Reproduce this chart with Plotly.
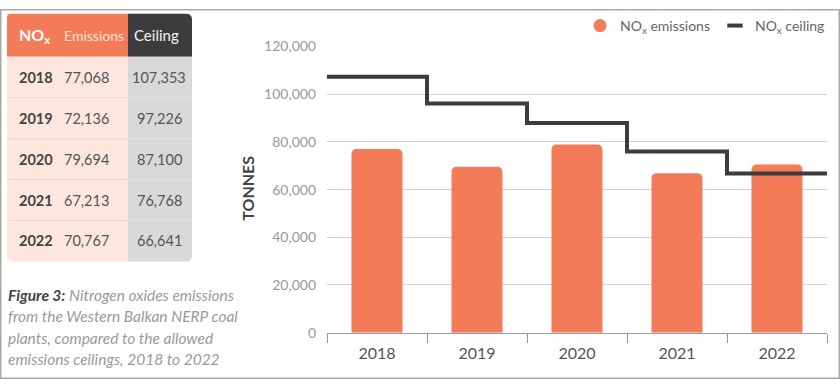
import plotly.graph_objects as go

W, H = 840, 387

# ---------------- data ----------------
years = ["2018", "2019", "2020", "2021", "2022"]
emissions = [77068, 69600, 78900, 66900, 70500]
ceiling = [107353, 96100, 87900, 76000, 66800]
table_years = ["2018", "2019", "2020", "2021", "2022"]
table_emissions = ["77,068", "72,136", "79,694", "67,213", "70,767"]
table_ceiling = ["107,353", "97,226", "87,100", "76,768", "66,641"]
y_ticks = [0, 20000, 40000, 60000, 80000, 100000, 120000]
caption_lines = [
    "<span style='color:#444'><b>Figure 3:</b></span> Nitrogen oxides emissions",
    "from the Western Balkan NERP coal",
    "plants, compared to the allowed",
    "emissions ceilings, 2018 to 2022",
]

ORANGE = "#f47b58"
DARK = "#3c3c3c"
FONT = "Lato"


def X(p):
    return p / W


def Y(p):
    return 1 - p / H


def rrect(x0, y0, x1, y1, tl=0, tr=0, br=0, bl=0):
    def pt(px, py):
        return f"{X(px):.5f},{Y(py):.5f}"
    return (f"M {pt(x0+tl, y0)} L {pt(x1-tr, y0)} Q {pt(x1, y0)} {pt(x1, y0+tr)} "
            f"L {pt(x1, y1-br)} Q {pt(x1, y1)} {pt(x1-br, y1)} "
            f"L {pt(x0+bl, y1)} Q {pt(x0, y1)} {pt(x0, y1-bl)} "
            f"L {pt(x0, y0+tl)} Q {pt(x0, y0)} {pt(x0+tl, y0)} Z")


fig = go.Figure()

fig.add_trace(go.Bar(
    x=years, y=emissions, marker=dict(color=ORANGE, cornerradius=5, line=dict(width=0)),
    showlegend=False, hoverinfo="skip"))

step_x = [i - 0.5 for i in range(len(years) + 1)]
step_y = ceiling + [ceiling[-1]]
fig.add_trace(go.Scatter(
    x=step_x, y=step_y, xaxis="x2", yaxis="y", mode="lines", line_shape="hv",
    line=dict(color=DARK, width=4), showlegend=False, hoverinfo="skip"))

# legend dummies
fig.add_trace(go.Scatter(x=[None], y=[None], mode="markers", name="NO<sub>x</sub> emissions",
                         marker=dict(symbol="circle", size=13, color=ORANGE)))
fig.add_trace(go.Scatter(x=[None], y=[None], mode="markers", name="NO<sub>x</sub> ceiling",
                         marker=dict(symbol="line-ew-open", size=11, color=DARK,
                                     line=dict(width=4, color=DARK))))

dom_x = [X(327), X(827)]
dom_y = [Y(338.5), Y(39.3)]

fig.update_layout(
    width=W, height=H, margin=dict(l=0, r=0, t=0, b=0),
    paper_bgcolor="white", plot_bgcolor="white",
    font=dict(family=FONT, color="#555"),
    bargap=0.49,
    xaxis=dict(domain=dom_x, type="category", categoryorder="array", categoryarray=years,
               tickson="boundaries", ticks="outside", ticklen=9, tickcolor="#999",
               showline=True, linecolor="#999", linewidth=1, showgrid=False,
               tickfont=dict(family=FONT, size=16, color="#555"), ticklabelstandoff=6,
               fixedrange=True),
    xaxis2=dict(overlaying="x", type="linear", range=[-0.5, len(years) - 0.5],
                visible=False, fixedrange=True),
    yaxis=dict(domain=dom_y, range=[0, 120000], tickvals=y_ticks, tickformat=",",
               showgrid=True, gridcolor="#d2d2d2", gridwidth=1, zeroline=False,
               showline=False, ticks="", tickfont=dict(family=FONT, size=14, color="#999"),
               ticklabelstandoff=10, fixedrange=True),
    legend=dict(orientation="h", x=X(830), xanchor="right", y=Y(1), yanchor="top",
                font=dict(family=FONT, size=14, color="#666"), bgcolor="rgba(0,0,0,0)",
                itemclick=False, itemdoubleclick=False),
)

shapes = []
annotations = []

# outer frame
shapes.append(dict(type="rect", xref="paper", yref="paper", x0=X(0.75), x1=X(839.25),
                   y0=Y(386.25), y1=Y(0.75), line=dict(color="#a8a8a8", width=1.5)))

# ---------------- table ----------------
tx0, tx1, tsplit = 7, 192, 128
ty0, thead, ty1 = 5, 50, 264
row_h = (ty1 - thead) / len(table_years)

shapes.append(dict(type="path", xref="paper", yref="paper",
                   path=rrect(tx0, ty0, tsplit, thead, tl=4), fillcolor=ORANGE, line=dict(width=0)))
shapes.append(dict(type="path", xref="paper", yref="paper",
                   path=rrect(tsplit, ty0, tx1, thead, tr=6), fillcolor=DARK, line=dict(width=0)))
shapes.append(dict(type="path", xref="paper", yref="paper",
                   path=rrect(tx0, thead, tsplit, ty1, bl=6), fillcolor="#fde6de", line=dict(width=0)))
shapes.append(dict(type="path", xref="paper", yref="paper",
                   path=rrect(tsplit, thead, tx1, ty1, br=6), fillcolor="#d9d9d9", line=dict(width=0)))
for i in range(1, len(table_years)):
    yy = thead + i * row_h
    shapes.append(dict(type="line", xref="paper", yref="paper", x0=X(tx0), x1=X(tsplit),
                       y0=Y(yy), y1=Y(yy), line=dict(color="#f6d6ca", width=1)))
    shapes.append(dict(type="line", xref="paper", yref="paper", x0=X(tsplit), x1=X(tx1),
                       y0=Y(yy), y1=Y(yy), line=dict(color="#e2e2e2", width=1)))

hy = (ty0 + thead) / 2
annotations.append(dict(text="<b>NO<sub>x</sub></b>", x=X(17), y=Y(hy), xref="paper", yref="paper",
                        xanchor="left", yanchor="middle", showarrow=False,
                        font=dict(family=FONT, size=16, color="white")))
annotations.append(dict(text="Emissions", x=X(62), y=Y(hy), xref="paper", yref="paper",
                        xanchor="left", yanchor="middle", showarrow=False,
                        font=dict(family=FONT, size=14, color="#fde3d9")))
annotations.append(dict(text="Ceiling", x=X(156), y=Y(hy), xref="paper", yref="paper",
                        xanchor="center", yanchor="middle", showarrow=False,
                        font=dict(family=FONT, size=15, color="#f2f2f2")))
for i, (yr, em, ce) in enumerate(zip(table_years, table_emissions, table_ceiling)):
    cy = thead + (i + 0.5) * row_h
    annotations.append(dict(text=f"<b>{yr}</b>", x=X(17), y=Y(cy), xref="paper", yref="paper",
                            xanchor="left", yanchor="middle", showarrow=False,
                            font=dict(family=FONT, size=14.5, color="#444")))
    annotations.append(dict(text=em, x=X(62), y=Y(cy), xref="paper", yref="paper",
                            xanchor="left", yanchor="middle", showarrow=False,
                            font=dict(family=FONT, size=14.5, color="#555")))
    annotations.append(dict(text=ce, x=X(159), y=Y(cy), xref="paper", yref="paper",
                            xanchor="center", yanchor="middle", showarrow=False,
                            font=dict(family=FONT, size=14.5, color="#555")))

# caption, one annotation per line
for i, line in enumerate(caption_lines):
    annotations.append(dict(text=f"<i>{line}</i>", x=X(6), y=Y(299 + 22.4 * i),
                            xref="paper", yref="paper", xanchor="left", yanchor="middle",
                            align="left", showarrow=False,
                            font=dict(family=FONT, size=15.5, color="#9a9a9a")))

# y-axis title
annotations.append(dict(text="<b>TONNES</b>", x=X(248), y=Y(188), xref="paper", yref="paper",
                        xanchor="center", yanchor="middle", textangle=-90, showarrow=False,
                        font=dict(family=FONT, size=16, color="#444")))

fig.update_layout(shapes=shapes, annotations=annotations)
fig.write_html("out.html", config={"displayModeBar": False},
               post_script="document.body.style.margin='0';document.body.style.overflow='hidden';")
